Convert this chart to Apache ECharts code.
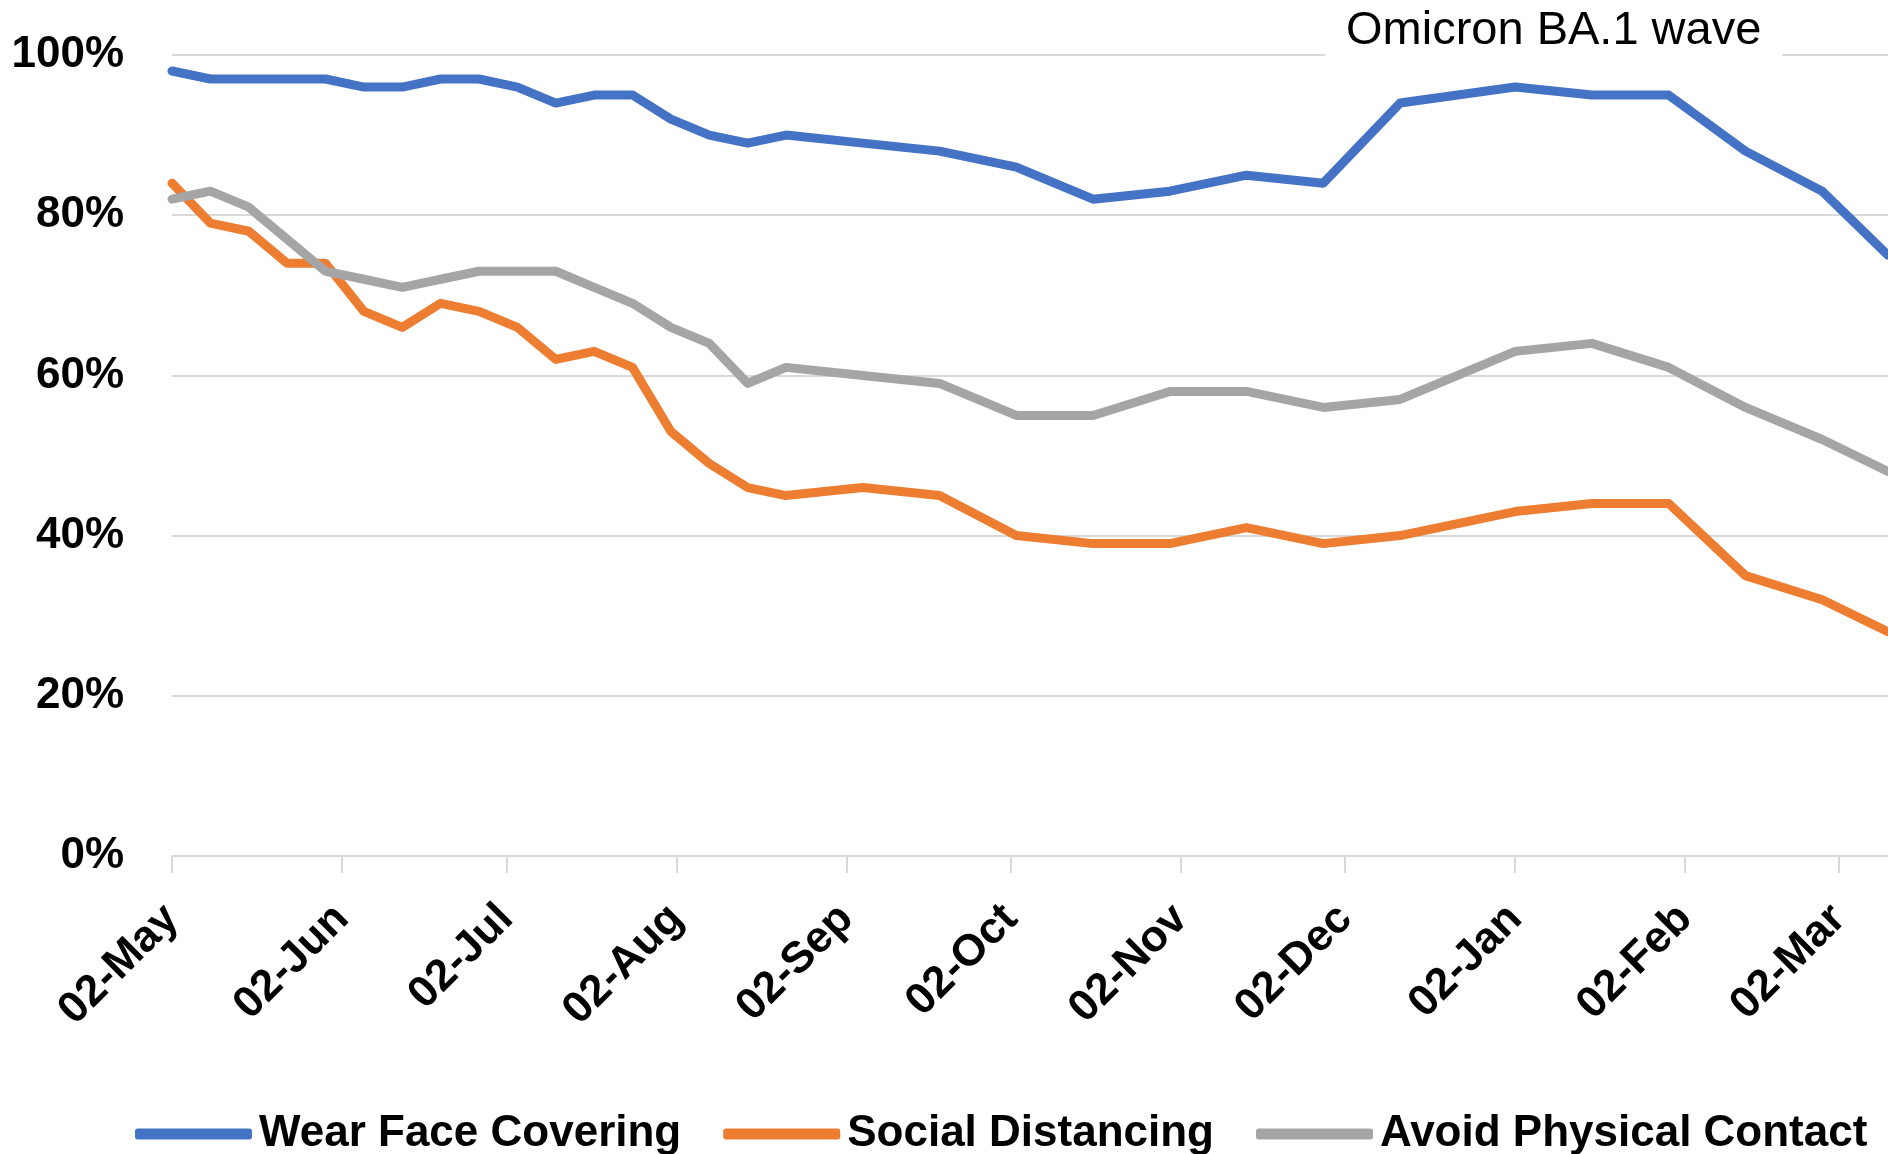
<!DOCTYPE html>
<html>
<head>
<meta charset="utf-8">
<title>Protective behaviours</title>
<script src="https://cdn.jsdelivr.net/npm/echarts@6/dist/echarts.min.js"></script>
<style>
  html, body { margin: 0; padding: 0; background: #fff; }
  #chart { width: 1888px; height: 1154px; }
</style>
</head>
<body>
<div id="chart"></div>
<script>
// survey dates (2021-2022), the last one is where the picture is cut off
const obsDates = ['02-May', '09-May', '16-May', '23-May', '30-May', '06-Jun', '13-Jun', '20-Jun', '27-Jun',
  '04-Jul', '11-Jul', '18-Jul', '25-Jul', '01-Aug', '08-Aug', '15-Aug', '22-Aug', '05-Sep', '19-Sep',
  '03-Oct', '17-Oct', '31-Oct', '14-Nov', '28-Nov', '12-Dec', '02-Jan', '16-Jan', '30-Jan', '13-Feb',
  '27-Feb', '11-Mar'];

const faceCovering = [98, 97, 97, 97, 97, 96, 96, 97, 97, 96, 94, 95, 95, 92, 90, 89, 90, 89, 88,
  86, 82, 83, 85, 84, 94, 96, 95, 95, 88, 83, 75];
const socialDistancing = [84, 79, 78, 74, 74, 68, 66, 69, 68, 66, 62, 63, 61, 53, 49, 46, 45, 46, 45,
  40, 39, 39, 41, 39, 40, 43, 44, 44, 35, 32, 28];
const physicalContact = [82, 83, 81, 77, 73, 72, 71, 72, 73, 73, 73, 71, 69, 66, 64, 59, 61, 60, 59,
  55, 55, 58, 58, 56, 57, 63, 64, 61, 56, 52, 48];

const tickLabels = ['02-May', '02-Jun', '02-Jul', '02-Aug', '02-Sep', '02-Oct', '02-Nov', '02-Dec',
  '02-Jan', '02-Feb', '02-Mar'];

// one category per day, 02-May-2021 .. 11-Mar-2022
const monthNames = ['Jan', 'Feb', 'Mar', 'Apr', 'May', 'Jun', 'Jul', 'Aug', 'Sep', 'Oct', 'Nov', 'Dec'];
const days = [];
const start = Date.UTC(2021, 4, 2);
for (let i = 0; i < 314; i++) {
  const d = new Date(start + i * 86400000);
  days.push(String(d.getUTCDate()).padStart(2, '0') + '-' + monthNames[d.getUTCMonth()]);
}

const font = '"Liberation Sans", Arial, sans-serif';
const gridColor = '#d9d9d9';

function pairs(values) {
  return obsDates.map((d, i) => [d, values[i]]);
}

function lineSeries(name, color, values) {
  return {
    name: name,
    type: 'line',
    data: pairs(values),
    showSymbol: false,
    symbol: 'none',
    color: color,
    lineStyle: { color: color, width: 9, cap: 'round', join: 'round' }
  };
}

const chart = echarts.init(document.getElementById('chart'));
chart.setOption({
  animation: false,
  title: {
    text: 'Omicron BA.1 wave',
    left: 1325,
    top: 0,
    padding: [6, 21, 4, 21],
    backgroundColor: '#fff',
    textStyle: {
      fontFamily: font,
      fontSize: 47,
      fontWeight: 'normal',
      lineHeight: 50,
      color: '#000'
    }
  },
  grid: {
    left: 172,
    right: 0,
    top: 55,
    bottom: 298
  },
  legend: {
    left: 130,
    top: 1106,
    width: 1750,
    icon: 'roundRect',
    itemWidth: 117,
    itemHeight: 11,
    itemGap: 42,
    textStyle: {
      fontFamily: font,
      fontSize: 44,
      fontWeight: 'bold',
      lineHeight: 46,
      color: '#000',
      padding: [0, 0, 0, 2]
    }
  },
  xAxis: {
    type: 'category',
    data: days,
    boundaryGap: false,
    axisLine: { lineStyle: { color: gridColor, width: 2 } },
    axisTick: {
      interval: (index, value) => tickLabels.includes(value),
      length: 17,
      lineStyle: { color: gridColor, width: 2 }
    },
    axisLabel: {
      interval: (index, value) => tickLabels.includes(value),
      rotate: 45,
      margin: 56,
      fontFamily: font,
      fontSize: 44,
      fontWeight: 'bold',
      color: '#000'
    },
    splitLine: { show: false }
  },
  yAxis: {
    type: 'value',
    min: 0,
    max: 100,
    interval: 20,
    axisLine: { show: false },
    axisTick: { show: false },
    axisLabel: {
      formatter: '{value}%',
      margin: 48,
      fontFamily: font,
      fontSize: 44,
      fontWeight: 'bold',
      color: '#000'
    },
    splitLine: { lineStyle: { color: gridColor, width: 2 } }
  },
  series: [
    lineSeries('Wear Face Covering', '#4472c4', faceCovering),
    lineSeries('Social Distancing', '#ed7d31', socialDistancing),
    lineSeries('Avoid Physical Contact', '#a5a5a5', physicalContact)
  ]
});
</script>
</body>
</html>
